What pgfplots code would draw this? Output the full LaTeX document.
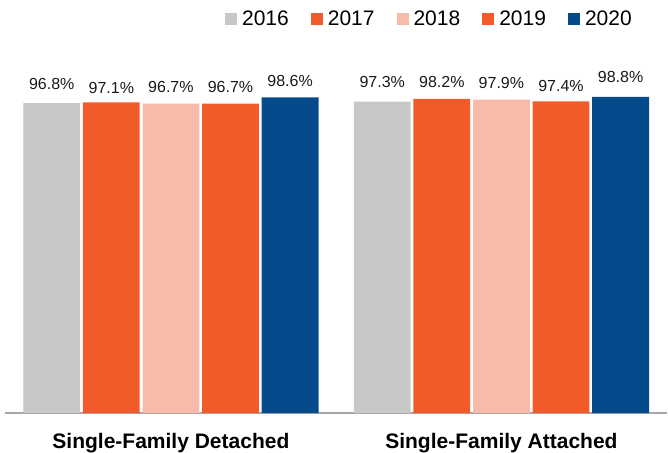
\documentclass[border=0pt]{standalone}
\usepackage{fontspec}
\setmainfont{Liberation Sans}
\usepackage{pgfplots}
\usepackage{pgfplotstable}
\pgfplotsset{compat=1.18}
\definecolor{cgray}{HTML}{C8C8C8}
\definecolor{corange}{HTML}{F15A29}
\definecolor{csalmon}{HTML}{F9BBA9}
\definecolor{cblue}{HTML}{054B8C}
\definecolor{caxis}{HTML}{A6A6A6}
\pgfplotstableread{
x y lab dy
0 96.8 96.8 13.9
1 97.3 97.3 14.3
}\tA
\pgfplotstableread{
x y lab dy
0 97.1 97.1 9.0
1 98.2 98.2 11.5
}\tB
\pgfplotstableread{
x y lab dy
0 96.7 96.7 10.9
1 97.9 97.9 11.4
}\tC
\pgfplotstableread{
x y lab dy
0 96.7 96.7 10.9
1 97.4 97.4 9.6
}\tD
\pgfplotstableread{
x y lab dy
0 98.6 98.6 10.8
1 98.8 98.8 14.8
}\tE
\begin{document}
\begin{tikzpicture}
\path[use as bounding box] (-5pt,-39pt) rectangle (663pt,413pt);
\begin{axis}[
  at={(0,0)}, anchor=south west,
  scale only axis, width=662pt, height=413pt,
  xmin=-0.502, xmax=1.501, ymin=0, ymax=129.06,
  ybar=2.8pt, bar width=56.8pt,
  clip=false,
  hide y axis,
  axis x line*=bottom,
  x axis line style={-, draw=caxis, line width=1.2pt},
  xtick={0,1},
  xticklabels={Single-Family Detached, Single-Family Attached},
  xtick style={draw=none},
  xticklabel style={font=\fontsize{21}{24}\selectfont\bfseries, anchor=base, yshift=-31pt},
  point meta=explicit symbolic,
  visualization depends on={\thisrow{dy}\as\dy},
  nodes near coords={\pgfplotspointmeta\%},
  every node near coord/.append style={font=\fontsize{16}{18}\selectfont, anchor=base, yshift=\dy pt, inner sep=0pt, text=black!90},
  legend columns=5,
  legend style={draw=none, fill=none, at={(0.947,0.954)}, anchor=east, inner sep=0pt,
    nodes={inner sep=0pt},
    font=\fontsize{21}{23}\selectfont,
    /tikz/every even column/.append style={column sep=22pt},
    /tikz/every odd column/.append style={column sep=5pt}},
  legend image code/.code={\fill[#1] (0pt,-6pt) rectangle (12pt,6pt);},
]
\addplot[fill=cgray, draw=none] table[x=x,y=y,meta=lab] {\tA};
\addplot[fill=corange, draw=none] table[x=x,y=y,meta=lab] {\tB};
\addplot[fill=csalmon, draw=none] table[x=x,y=y,meta=lab] {\tC};
\addplot[fill=corange, draw=none] table[x=x,y=y,meta=lab] {\tD};
\addplot[fill=cblue, draw=none] table[x=x,y=y,meta=lab] {\tE};
\legend{2016,2017,2018,2019,2020}
\end{axis}
\end{tikzpicture}
\end{document}
